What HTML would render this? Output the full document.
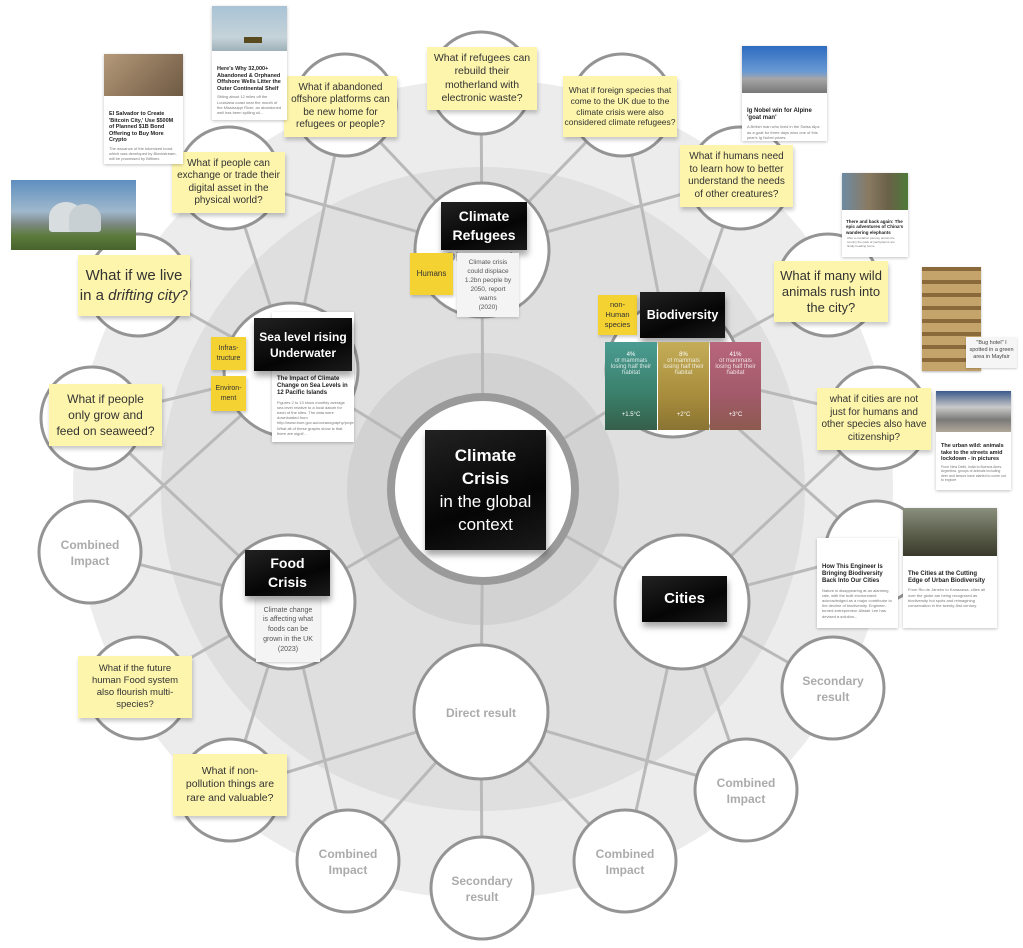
<!DOCTYPE html>
<html><head><meta charset="utf-8">
<style>
*{margin:0;padding:0;box-sizing:border-box}
body{width:1023px;height:948px;background:#fff;position:relative;overflow:hidden;font-family:"Liberation Sans",sans-serif}
.a{position:absolute}
.st{position:absolute;background:#fdf5ac;color:#333;text-align:center;display:flex;align-items:center;justify-content:center;box-shadow:1px 3px 4px rgba(0,0,0,.22);line-height:1.25}
.yl{position:absolute;background:#f4d232;color:#333;text-align:center;display:flex;align-items:center;justify-content:center;box-shadow:1px 2px 3px rgba(0,0,0,.2);line-height:1.3}
.bk{position:absolute;background:linear-gradient(160deg,#222,#050505 60%,#1a1a1a);color:#fff;font-weight:bold;text-align:center;display:flex;align-items:center;justify-content:center;box-shadow:1px 5px 6px rgba(0,0,0,.35);line-height:1.35}
.cd{position:absolute;background:#fff;box-shadow:0 1px 3px rgba(0,0,0,.25);overflow:hidden;color:#333}
.cd b{display:block;font-size:6px;line-height:1.2;padding:0 5px;color:#222}
.cd i{display:block;font-style:normal;font-size:4px;line-height:1.3;padding:2px 5px;color:#777}
.cd .src{height:8px;margin:4px 5px 3px;font-size:3px;color:#aaa}
.gc{position:absolute;background:#f4f4f4;color:#555;text-align:center;font-size:7px;line-height:1.4;box-shadow:0 1px 3px rgba(0,0,0,.2);display:flex;align-items:center;justify-content:center}
</style></head><body>
<svg class="a" style="left:0;top:0" width="1023" height="948">
<circle cx="483" cy="489" r="410" fill="#ececec"/>
<circle cx="483" cy="489" r="322" fill="#dfdfdf"/>
<circle cx="483" cy="489" r="136" fill="#d2d2d2"/>
<g stroke="#b9b9b9" stroke-width="3">
<line x1="483" y1="489" x2="482" y2="250"/><line x1="483" y1="489" x2="291" y2="370"/><line x1="483" y1="489" x2="673" y2="370"/><line x1="483" y1="489" x2="288" y2="602"/><line x1="483" y1="489" x2="682" y2="602"/><line x1="483" y1="489" x2="481" y2="712"/>
<line x1="482" y1="250" x2="481" y2="83"/><line x1="482" y1="250" x2="345" y2="105"/><line x1="482" y1="250" x2="622" y2="105"/><line x1="482" y1="250" x2="229" y2="178"/><line x1="482" y1="250" x2="740" y2="178"/>
<line x1="291" y1="370" x2="345" y2="105"/><line x1="291" y1="370" x2="229" y2="178"/><line x1="291" y1="370" x2="138" y2="285"/><line x1="291" y1="370" x2="92" y2="418"/><line x1="291" y1="370" x2="90" y2="552"/>
<line x1="673" y1="370" x2="622" y2="105"/><line x1="673" y1="370" x2="740" y2="178"/><line x1="673" y1="370" x2="828" y2="285"/><line x1="673" y1="370" x2="878" y2="418"/><line x1="673" y1="370" x2="876" y2="552"/>
<line x1="288" y1="602" x2="92" y2="418"/><line x1="288" y1="602" x2="90" y2="552"/><line x1="288" y1="602" x2="138" y2="688"/><line x1="288" y1="602" x2="230" y2="790"/><line x1="288" y1="602" x2="348" y2="861"/>
<line x1="682" y1="602" x2="878" y2="418"/><line x1="682" y1="602" x2="876" y2="552"/><line x1="682" y1="602" x2="833" y2="688"/><line x1="682" y1="602" x2="746" y2="790"/><line x1="682" y1="602" x2="625" y2="861"/>
<line x1="481" y1="712" x2="230" y2="790"/><line x1="481" y1="712" x2="348" y2="861"/><line x1="481" y1="712" x2="482" y2="888"/><line x1="481" y1="712" x2="625" y2="861"/><line x1="481" y1="712" x2="746" y2="790"/>
</g>
<g fill="#fff" stroke="#949494" stroke-width="3">
<circle cx="482" cy="250" r="67"/><circle cx="291" cy="370" r="67"/><circle cx="673" cy="370" r="67"/><circle cx="288" cy="602" r="67"/><circle cx="682" cy="602" r="67"/><circle cx="481" cy="712" r="67"/>
<circle cx="481" cy="83" r="51"/><circle cx="345" cy="105" r="51"/><circle cx="622" cy="105" r="51"/><circle cx="229" cy="178" r="51"/><circle cx="740" cy="178" r="51"/><circle cx="138" cy="285" r="51"/><circle cx="828" cy="285" r="51"/><circle cx="92" cy="418" r="51"/><circle cx="878" cy="418" r="51"/><circle cx="90" cy="552" r="51"/><circle cx="876" cy="552" r="51"/><circle cx="138" cy="688" r="51"/><circle cx="833" cy="688" r="51"/><circle cx="230" cy="790" r="51"/><circle cx="746" cy="790" r="51"/><circle cx="348" cy="861" r="51"/><circle cx="625" cy="861" r="51"/><circle cx="482" cy="888" r="51"/>
</g>
<circle cx="483" cy="489" r="92" fill="#fff" stroke="#9a9a9a" stroke-width="8"/>
<g fill="#ababab" font-family="Liberation Sans,sans-serif" font-weight="bold" font-size="12" text-anchor="middle">
<text x="90" y="549">Combined</text><text x="90" y="565">Impact</text>
<text x="833" y="685">Secondary</text><text x="833" y="701">result</text>
<text x="746" y="787">Combined</text><text x="746" y="803">Impact</text>
<text x="348" y="858">Combined</text><text x="348" y="874">Impact</text>
<text x="625" y="858">Combined</text><text x="625" y="874">Impact</text>
<text x="482" y="885">Secondary</text><text x="482" y="901">result</text>
<text x="481" y="717">Direct result</text>
<text x="482" y="261">Direct result</text>
</g>
</svg>

<div class="bk" style="left:425px;top:430px;width:121px;height:120px;font-size:17px;line-height:23px"><div>Climate<br>Crisis<br><span style="font-weight:normal">in the global<br>context</span></div></div>

<div class="bk" style="left:441px;top:202px;width:86px;height:48px;font-size:14px;line-height:19px"><div>Climate<br>Refugees</div></div>
<div class="gc" style="left:457px;top:253px;width:62px;height:64px;font-size:6.5px"><div>Climate crisis<br>could displace<br>1.2bn people by<br>2050, report<br>warns<br>(2020)</div></div>
<div class="yl" style="left:410px;top:253px;width:43px;height:42px;font-size:8px">Humans</div>

<div class="cd" style="left:272px;top:312px;width:82px;height:130px;padding-top:64px"><b>The Impact of Climate Change on Sea Levels in 12 Pacific Islands</b><i>Figures 2 to 13 show monthly average sea level relative to a local datum for each of the sites. The data were downloaded from http://www.bom.gov.au/oceanography/projects/spslcmp/data/monthly.shtml. What all of these graphs show is that there are signif...</i></div>
<div class="bk" style="left:254px;top:318px;width:98px;height:53px;font-size:12px;line-height:16px"><div>Sea level rising<br>Underwater</div></div>
<div class="yl" style="left:211px;top:337px;width:35px;height:33px;font-size:7px"><div>Infras-<br>tructure</div></div>
<div class="yl" style="left:211px;top:376px;width:35px;height:35px;font-size:7px"><div>Environ-<br>ment</div></div>

<div class="yl" style="left:598px;top:295px;width:39px;height:40px;font-size:7.5px"><div>non-<br>Human<br>species</div></div>
<div class="bk" style="left:640px;top:292px;width:85px;height:46px;font-size:12.5px">Biodiversity</div>
<div class="a" style="left:605px;top:342px;width:52px;height:88px;background:linear-gradient(#4a9c92,#3a7f6a 60%,#355f4a);color:#fff;font-size:6px;text-align:center;padding-top:10px">4%<br><span style="opacity:.8">of mammals<br>losing half their<br>habitat</span><div style="margin-top:36px">+1.5°C</div></div>
<div class="a" style="left:658px;top:342px;width:51px;height:88px;background:linear-gradient(#c4ad58,#a88d3c 60%,#8a7432);color:#fff;font-size:6px;text-align:center;padding-top:10px">8%<br><span style="opacity:.8">of mammals<br>losing half their<br>habitat</span><div style="margin-top:36px">+2°C</div></div>
<div class="a" style="left:710px;top:342px;width:51px;height:88px;background:linear-gradient(#b8667c,#a25a6a 60%,#8c5a4e);color:#fff;font-size:6px;text-align:center;padding-top:10px">41%<br><span style="opacity:.8">of mammals<br>losing half their<br>habitat</span><div style="margin-top:36px">+3°C</div></div>

<div class="gc" style="left:256px;top:598px;width:64px;height:64px;font-size:7px"><div>Climate change<br>is affecting what<br>foods can be<br>grown in the UK<br>(2023)</div></div>
<div class="bk" style="left:245px;top:550px;width:85px;height:46px;font-size:14px;line-height:19px"><div>Food<br>Crisis</div></div>

<div class="bk" style="left:642px;top:576px;width:85px;height:46px;font-size:15px">Cities</div>
<div class="cd" style="left:817px;top:538px;width:81px;height:90px;padding-top:26px"><b>How This Engineer Is Bringing Biodiversity Back Into Our Cities</b><i>Nature is disappearing at an alarming rate, with the built environment acknowledged as a major contributor to the decline of biodiversity. Engineer-turned-entrepreneur Alistair Lee has devised a solution...</i></div>
<div class="cd" style="left:903px;top:508px;width:94px;height:120px"><div style="height:48px;background:linear-gradient(#8a8f7e,#5b5e4a 55%,#3a3a2c)"></div><div class="src"></div><b>The Cities at the Cutting Edge of Urban Biodiversity</b><i>From Rio de Janeiro to Kanazawa, cities all over the globe are being recognized as biodiversity hot spots and reimagining conservation in the twenty-first century.</i></div>

<div class="st" style="left:427px;top:47px;width:110px;height:63px;font-size:10.5px"><div>What if refugees can<br>rebuild their<br>motherland with<br>electronic waste?</div></div>
<div class="st" style="left:284px;top:76px;width:113px;height:61px;font-size:10px"><div>What if abandoned<br>offshore platforms can<br>be new home for<br>refugees or people?</div></div>
<div class="st" style="left:563px;top:76px;width:114px;height:61px;font-size:8.5px"><div>What if foreign species that<br>come to the UK due to the<br>climate crisis were also<br>considered climate refugees?</div></div>
<div class="st" style="left:172px;top:152px;width:113px;height:61px;font-size:10px"><div>What if people can<br>exchange or trade their<br>digital asset in the<br>physical world?</div></div>
<div class="st" style="left:680px;top:145px;width:113px;height:62px;font-size:10px"><div>What if humans need<br>to learn how to better<br>understand the needs<br>of other creatures?</div></div>
<div class="st" style="left:78px;top:255px;width:112px;height:61px;font-size:15px;line-height:20px;white-space:nowrap"><div>What if we live<br>in a <i>drifting city</i>?</div></div>
<div class="st" style="left:774px;top:261px;width:114px;height:61px;font-size:13px;line-height:16px"><div>What if many wild<br>animals rush into<br>the city?</div></div>
<div class="st" style="left:49px;top:384px;width:113px;height:62px;font-size:12px;line-height:16px"><div>What if people<br>only grow and<br>feed on seaweed?</div></div>
<div class="st" style="left:817px;top:388px;width:114px;height:62px;font-size:10px"><div>what if cities are not<br>just for humans and<br>other species also have<br>citizenship?</div></div>
<div class="st" style="left:78px;top:656px;width:114px;height:62px;font-size:9.5px"><div>What if the future<br>human Food system<br>also flourish multi-<br>species?</div></div>
<div class="st" style="left:173px;top:754px;width:114px;height:62px;font-size:10.5px"><div>What if non-<br>pollution things are<br>rare and valuable?</div></div>

<div class="cd" style="left:212px;top:6px;width:75px;height:114px"><div style="height:45px;background:linear-gradient(#a9c3d6,#c5d3d9 70%,#9eb0b8);position:relative"><div style="position:absolute;left:32px;top:31px;width:18px;height:6px;background:#5a4a20"></div></div><div class="src"></div><b style="font-size:5.5px">Here's Why 32,000+ Abandoned &amp; Orphaned Offshore Wells Litter the Outer Continental Shelf</b><i>Sitting about 12 miles off the Louisiana coast near the mouth of the Mississippi River, an abandoned well has been spilling oil...</i></div>
<div class="cd" style="left:104px;top:54px;width:79px;height:110px"><div style="height:42px;background:linear-gradient(135deg,#b59a7a,#8a7258 60%,#6e5a44)"></div><div class="src"></div><b style="font-size:5.5px">El Salvador to Create 'Bitcoin City,' Use $500M of Planned $1B Bond Offering to Buy More Crypto</b><i>The issuance of the tokenized bond, which was developed by Blockstream, will be processed by Bitfinex.</i></div>
<div class="a" style="left:11px;top:180px;width:125px;height:70px;background:linear-gradient(#5f8fbf,#9fb8cc 45%,#7e8a86 62%,#5c7a3c 80%,#47632c)"><div style="position:absolute;left:38px;top:22px;width:34px;height:30px;border-radius:50% 50% 10% 10%;background:#d8dde0"></div><div style="position:absolute;left:58px;top:24px;width:32px;height:28px;border-radius:50% 50% 10% 10%;background:#c9d0d4"></div></div>
<div class="cd" style="left:742px;top:46px;width:85px;height:95px"><div style="height:47px;background:linear-gradient(#2d6cc0,#6a9ad4 55%,#a6a6a6 70%,#777)"></div><div class="src"></div><b style="font-size:6px">Ig Nobel win for Alpine 'goat man'</b><i>A British man who lived in the Swiss Alps as a goat for three days wins one of this year's Ig Nobel prizes.</i></div>
<div class="cd" style="left:842px;top:173px;width:66px;height:84px"><div style="height:37px;background:linear-gradient(90deg,#6d8aa2,#8a7a62 40%,#6a6048 70%,#4d7a3a)"></div><div class="src" style="margin:2px 4px;height:5px"></div><b style="font-size:4.5px;padding:0 4px">There and back again: The epic adventures of China's wandering elephants</b><i style="font-size:3px">After a marathon journey across the country the pack of pachyderms are finally heading home.</i></div>
<div class="a" style="left:922px;top:267px;width:59px;height:104px;background:repeating-linear-gradient(#8a6a3a 0 4px,#c4a46a 4px 13px),#a88552;box-shadow:0 1px 2px rgba(0,0,0,.3)"></div>
<div class="a" style="left:966px;top:337px;width:51px;height:31px;background:#f5f5f5;font-size:5.5px;color:#444;text-align:center;line-height:1.3;padding-top:3px;box-shadow:0 1px 2px rgba(0,0,0,.2)">"Bug hotel" I<br>spotted in a green<br>area in Mayfair</div>
<div class="cd" style="left:936px;top:391px;width:75px;height:99px"><div style="height:41px;background:linear-gradient(#3b5a8a,#c9c9c9 40%,#7a7a78 70%,#b0a89a)"></div><div class="src" style="margin:3px 5px 2px;height:6px"></div><b style="font-size:5.5px">The urban wild: animals take to the streets amid lockdown - in pictures</b><i style="font-size:3.5px">From New Delhi, India to Buenos Aires, Argentina, groups of animals including deer and lemurs have started to come out to explore</i></div>
</body></html>
